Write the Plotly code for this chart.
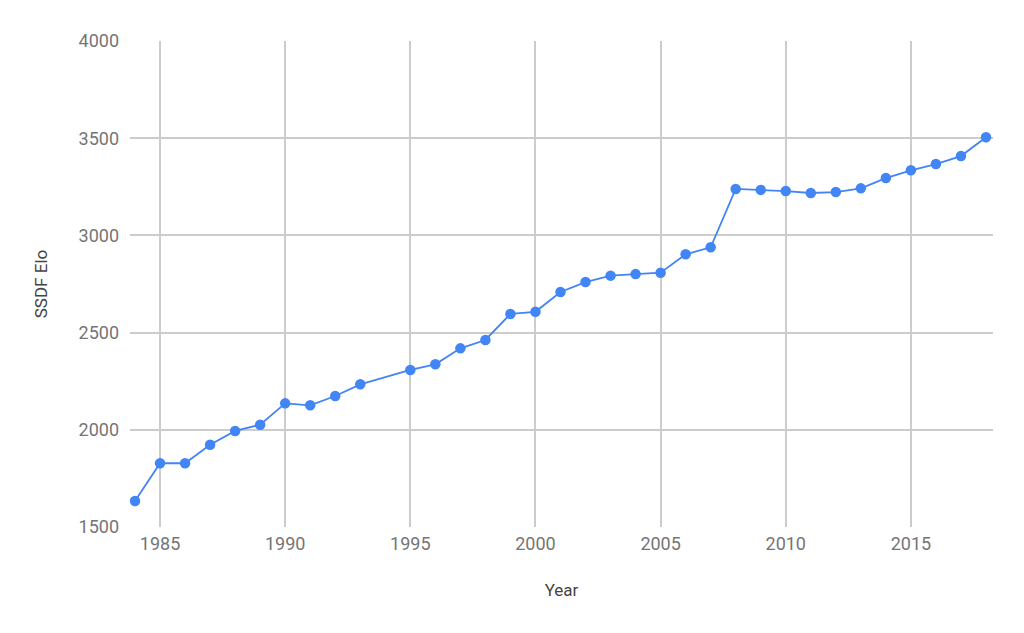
import plotly.graph_objects as go

years = [1984, 1985, 1986, 1987, 1988, 1989, 1990, 1991, 1992, 1993,
         1995, 1996, 1997, 1998, 1999, 2000, 2001, 2002, 2003, 2004,
         2005, 2006, 2007, 2008, 2009, 2010, 2011, 2012, 2013, 2014,
         2015, 2016, 2017, 2018]
elo = [1634, 1828, 1828, 1923, 1994, 2026, 2136, 2126, 2174, 2234,
       2308, 2337, 2419, 2462, 2596, 2607, 2709, 2760, 2793, 2801,
       2808, 2903, 2939, 3239, 3234, 3228, 3218, 3223, 3242, 3295,
       3335, 3367, 3408, 3505]

x_ticks = [1985, 1990, 1995, 2000, 2005, 2010, 2015]
y_ticks = [1500, 2000, 2500, 3000, 3500, 4000]

fig = go.Figure()
fig.add_trace(go.Scatter(
    x=years, y=elo, mode="lines+markers",
    line=dict(color="#4285F4", width=1.8),
    marker=dict(color="#4285F4", size=10.5),
    showlegend=False,
))

fig.update_layout(
    width=1024, height=633,
    margin=dict(l=130, r=31, t=41, b=106),
    paper_bgcolor="white", plot_bgcolor="white",
    font=dict(family="Roboto", color="#757575"),
    xaxis=dict(
        range=[1983.8, 2018.28],
        tickvals=x_ticks, ticktext=[str(v) for v in x_ticks],
        showgrid=True, gridcolor="#cccccc", gridwidth=1.6,
        zeroline=False, showline=False,
        tickfont=dict(size=18, color="#757575"),
        ticks="", ticklabelstandoff=4,
        title=dict(text="Year", font=dict(size=17, color="#444444"), standoff=31),
    ),
    yaxis=dict(
        range=[1500, 4000],
        tickvals=y_ticks, ticktext=[str(v) for v in y_ticks],
        showgrid=True, gridcolor="#cccccc", gridwidth=1.6,
        zeroline=False, showline=False,
        tickfont=dict(size=18, color="#757575"),
        ticks="", ticklabelstandoff=10,
        title=dict(text="SSDF Elo", font=dict(size=17, color="#444444"), standoff=26),
    ),
)

fig.write_html("out.html")
